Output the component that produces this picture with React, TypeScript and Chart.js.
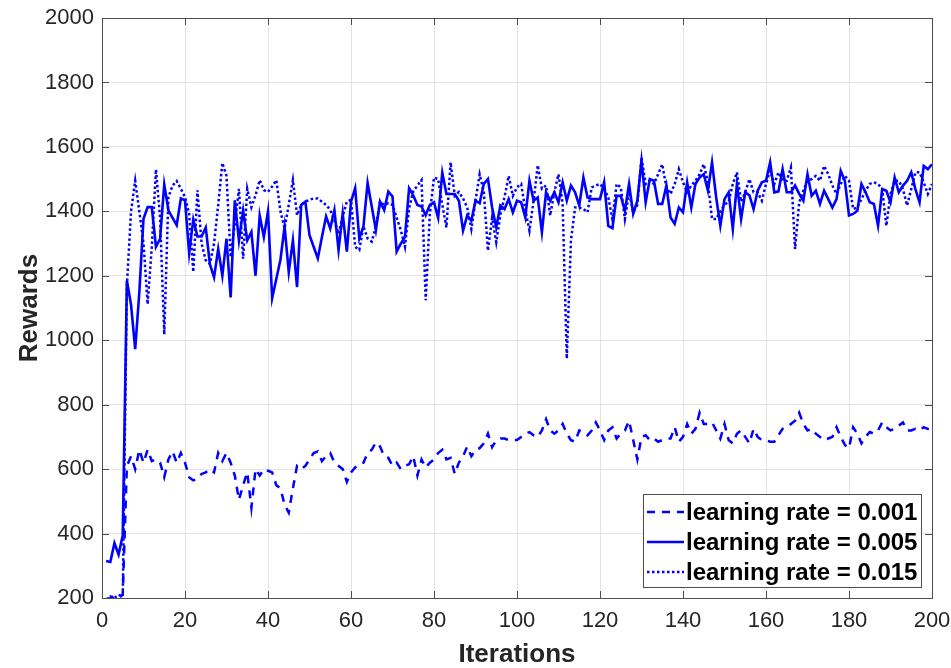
import React, { useEffect, useRef } from "react";
import { Chart, registerables } from "chart.js";

Chart.register(...registerables);

const LABELS = ["learning rate = 0.001", "learning rate = 0.005", "learning rate = 0.015"];

const lr001: number[] = [
  195, 200, 205, 200, 210, 610, 640, 600, 660, 620,
  660, 625, 630, 620, 575, 630, 655, 620, 650, 620,
  575, 565, 570, 585, 590, 600, 590, 650, 625, 650,
  620, 580, 505, 550, 590, 480, 600, 580, 600, 595,
  590, 550, 540, 490, 465, 540, 610, 600, 610, 630,
  650, 655, 625, 640, 650, 620, 610, 600, 560, 590,
  605, 615, 620, 650, 660, 683, 670, 640, 635, 610,
  620, 600, 610, 615, 640, 580, 630, 605, 620, 630,
  650, 660, 630, 635, 585, 620, 640, 670, 640, 660,
  665, 680, 710, 668, 690, 695, 695, 690, 690, 690,
  700, 710, 715, 705, 700, 720, 755, 720, 710, 720,
  740, 710, 690, 685, 720, 715, 705, 720, 745, 720,
  690, 720, 730, 695, 710, 720, 750, 690, 630, 700,
  705, 690, 695, 685, 690, 695, 695, 730, 685, 700,
  740, 710, 725, 775, 740, 740, 745, 720, 695, 740,
  690, 680, 710, 720, 700, 680, 725, 700, 690, 690,
  685, 685, 705, 725, 730, 740, 750, 775, 740, 720,
  725, 710, 700, 690, 695, 700, 730, 700, 675, 665,
  730, 710, 680, 700, 715, 710, 720, 745, 730, 720,
  725, 735, 745, 720, 720, 725, 720, 730, 725, 720,
];

const lr005: number[] = [
  315, 312, 370, 335, 395, 1185, 1110, 972, 1150, 1377,
  1413, 1413, 1290, 1315, 1484, 1403, 1380, 1357, 1440, 1434,
  1270, 1375, 1322, 1322, 1350, 1236, 1195, 1283, 1200, 1315,
  1133, 1434, 1310, 1403, 1310, 1336, 1200, 1387, 1320, 1400,
  1130, 1190, 1250, 1353, 1212, 1310, 1165, 1420, 1430, 1326,
  1290, 1254, 1320, 1384, 1347, 1404, 1280, 1393, 1275, 1430,
  1472, 1316, 1353, 1488, 1415, 1342, 1430, 1404, 1461, 1446,
  1275, 1300, 1320, 1472, 1450, 1420, 1415, 1388, 1420, 1428,
  1380, 1520, 1454, 1454, 1454, 1433, 1340, 1387, 1371, 1433,
  1425, 1485, 1500, 1412, 1350, 1418, 1407, 1438, 1397, 1433,
  1428, 1381, 1495, 1433, 1443, 1335, 1459, 1433, 1459, 1428,
  1490, 1433, 1480, 1459, 1418, 1505, 1443, 1438, 1438, 1438,
  1490, 1355, 1348, 1448, 1448, 1402, 1485, 1392, 1433, 1557,
  1428, 1500, 1495, 1423, 1423, 1480, 1381, 1361, 1412, 1397,
  1490, 1412, 1485, 1505, 1515, 1464, 1552, 1443, 1355, 1438,
  1459, 1345, 1485, 1376, 1459, 1450, 1407, 1464, 1490, 1495,
  1552, 1459, 1462, 1531, 1459, 1459, 1480, 1454, 1433, 1515,
  1448, 1464, 1423, 1464, 1438, 1412, 1438, 1526, 1495, 1387,
  1392, 1402, 1485, 1459, 1428, 1423, 1355, 1469, 1464, 1428,
  1505, 1459, 1480, 1495, 1521, 1469, 1428, 1541, 1531, 1546,
];

const lr015: number[] = [
  195, 205, 200, 210, 205, 1170, 1400, 1495, 1400, 1300,
  1112, 1290, 1530, 1380, 1018, 1444, 1480, 1494, 1470, 1444,
  1393, 1212, 1465, 1300, 1248, 1237, 1300, 1420, 1550, 1510,
  1258, 1360, 1470, 1253, 1470, 1413, 1450, 1497, 1466, 1460,
  1477, 1497, 1400, 1347, 1420, 1497, 1388, 1420, 1430, 1436,
  1440, 1440, 1430, 1420, 1404, 1372, 1330, 1384, 1430, 1436,
  1290, 1280, 1353, 1316, 1306, 1353, 1430, 1420, 1425, 1420,
  1380, 1342, 1290, 1410, 1462, 1480, 1497, 1124, 1392, 1505,
  1500, 1420, 1350, 1552, 1448, 1460, 1440, 1412, 1345, 1433,
  1515, 1460, 1278, 1380, 1304, 1390, 1445, 1510, 1448, 1475,
  1485, 1405, 1340, 1433, 1543, 1470, 1480, 1387, 1460, 1515,
  1423, 943, 1310, 1412, 1412, 1407, 1397, 1474, 1480, 1485,
  1470, 1443, 1375, 1485, 1475, 1376, 1460, 1397, 1420, 1567,
  1485, 1495, 1485, 1515, 1546, 1474, 1454, 1485, 1531, 1490,
  1459, 1480, 1495, 1515, 1546, 1490, 1376, 1376, 1400, 1420,
  1430, 1485, 1521, 1430, 1459, 1500, 1459, 1459, 1433, 1485,
  1526, 1485, 1521, 1495, 1495, 1536, 1283, 1428, 1464, 1495,
  1500, 1510, 1495, 1541, 1515, 1480, 1454, 1485, 1510, 1495,
  1407, 1412, 1438, 1464, 1485, 1490, 1485, 1469, 1355, 1454,
  1495, 1495, 1469, 1418, 1469, 1521, 1521, 1490, 1454, 1485,
];

const iterations: number[] = lr005.map((_, i) => i + 1);

const FONT = '"Liberation Sans", Arial, Helvetica, sans-serif';
const BLUE = "#0000ff";

const boxPlugin = {
  id: "matlabBox",
  afterDatasetsDraw(chart: any) {
    const { ctx, chartArea, scales } = chart;
    const { left, right, top, bottom } = chartArea;
    ctx.save();
    ctx.strokeStyle = "#4d4d4d";
    ctx.lineWidth = 1;
    const tl = 7;
    ctx.beginPath();
    scales.x.ticks.forEach((t: any) => {
      const px = Math.round(scales.x.getPixelForValue(t.value)) + 0.5;
      ctx.moveTo(px, bottom);
      ctx.lineTo(px, bottom - tl);
      ctx.moveTo(px, top);
      ctx.lineTo(px, top + tl);
    });
    scales.y.ticks.forEach((t: any) => {
      const py = Math.round(scales.y.getPixelForValue(t.value)) + 0.5;
      ctx.moveTo(left, py);
      ctx.lineTo(left + tl, py);
      ctx.moveTo(right, py);
      ctx.lineTo(right - tl, py);
    });
    ctx.stroke();
    ctx.strokeRect(Math.round(left) + 0.5, Math.round(top) + 0.5, Math.round(right - left), Math.round(bottom - top));
    ctx.restore();
  },
};

const legendPlugin = {
  id: "boxLegend",
  afterDraw(chart: any) {
    const { ctx, chartArea } = chart;
    const w = 278;
    const h = 93;
    const right = chartArea.right - 11;
    const bottom = chartArea.bottom - 11;
    const left = right - w;
    const top = bottom - h;
    ctx.save();
    ctx.fillStyle = "#ffffff";
    ctx.fillRect(left, top, w, h);
    ctx.strokeStyle = "#4d4d4d";
    ctx.lineWidth = 1;
    ctx.strokeRect(Math.round(left) + 0.5, Math.round(top) + 0.5, w, h);
    chart.data.datasets.forEach((ds: any, i: number) => {
      const y = top + 18 + i * 30;
      ctx.strokeStyle = ds.borderColor;
      ctx.lineWidth = ds.borderWidth;
      ctx.setLineDash(ds.borderDash || []);
      ctx.beginPath();
      ctx.moveTo(left + 4, y);
      ctx.lineTo(left + 41, y);
      ctx.stroke();
      ctx.setLineDash([]);
      ctx.fillStyle = "#000000";
      ctx.font = `bold 24px ${FONT}`;
      ctx.textBaseline = "middle";
      ctx.textAlign = "left";
      ctx.fillText(ds.label, left + 43, y + 1);
    });
    ctx.restore();
  },
};

export default function App() {
  const ref = useRef<HTMLCanvasElement | null>(null);

  useEffect(() => {
    if (!ref.current) return;
    const mk = (vals: number[]) => vals.map((v, i) => ({ x: iterations[i], y: v }));
    const chart = new Chart(ref.current, {
      type: "line",
      data: {
        datasets: [
          {
            label: LABELS[0],
            data: mk(lr001),
            borderColor: BLUE,
            borderWidth: 2.5,
            borderDash: [8, 7],
            pointRadius: 0,
            tension: 0,
            order: 3,
          },
          {
            label: LABELS[1],
            data: mk(lr005),
            borderColor: BLUE,
            borderWidth: 2.6,
            borderDash: [],
            pointRadius: 0,
            tension: 0,
            order: 2,
          },
          {
            label: LABELS[2],
            data: mk(lr015),
            borderColor: BLUE,
            borderWidth: 2.5,
            borderDash: [2.5, 2.5],
            pointRadius: 0,
            tension: 0,
            order: 1,
          },
        ],
      },
      options: {
        responsive: false,
        animation: false,
        layout: { padding: { top: 18, right: 19, left: 0, bottom: 0 } },
        plugins: {
          legend: { display: false },
          tooltip: { enabled: false },
        },
        scales: {
          x: {
            type: "linear",
            min: 0,
            max: 200,
            border: { display: false },
            grid: { color: "#e3e3e3", drawTicks: false, lineWidth: 1 },
            ticks: {
              stepSize: 20,
              padding: 10,
              color: "#262626",
              font: { family: FONT, size: 22 },
              callback: (v: any) => String(v),
            },
            title: {
              display: true,
              text: "Iterations",
              color: "#262626",
              font: { family: FONT, size: 26, weight: "bold", lineHeight: 1 },
              padding: { top: 0, bottom: 0 },
            },
            afterFit: (s: any) => {
              s.height = 70;
              s.paddingLeft = 0;
              s.paddingRight = 0;
            },
          },
          y: {
            type: "linear",
            min: 200,
            max: 2000,
            border: { display: false },
            grid: { color: "#e3e3e3", drawTicks: false, lineWidth: 1 },
            ticks: {
              stepSize: 200,
              padding: 8,
              color: "#262626",
              font: { family: FONT, size: 22 },
              callback: (v: any) => String(v),
            },
            title: {
              display: true,
              text: "Rewards",
              color: "#262626",
              font: { family: FONT, size: 26, weight: "bold", lineHeight: 1 },
              padding: { top: 17, bottom: 0 },
            },
            afterFit: (s: any) => {
              s.width = 102;
              s.paddingTop = 0;
              s.paddingBottom = 0;
            },
          },
        },
      } as any,
      plugins: [boxPlugin, legendPlugin],
    });
    return () => chart.destroy();
  }, []);

  return (
    <div style={{ position: "fixed", left: 0, top: 0, width: 951, height: 668, background: "#ffffff" }}>
      <canvas ref={ref} width={951} height={668} style={{ width: 951, height: 668 }} />
    </div>
  );
}
